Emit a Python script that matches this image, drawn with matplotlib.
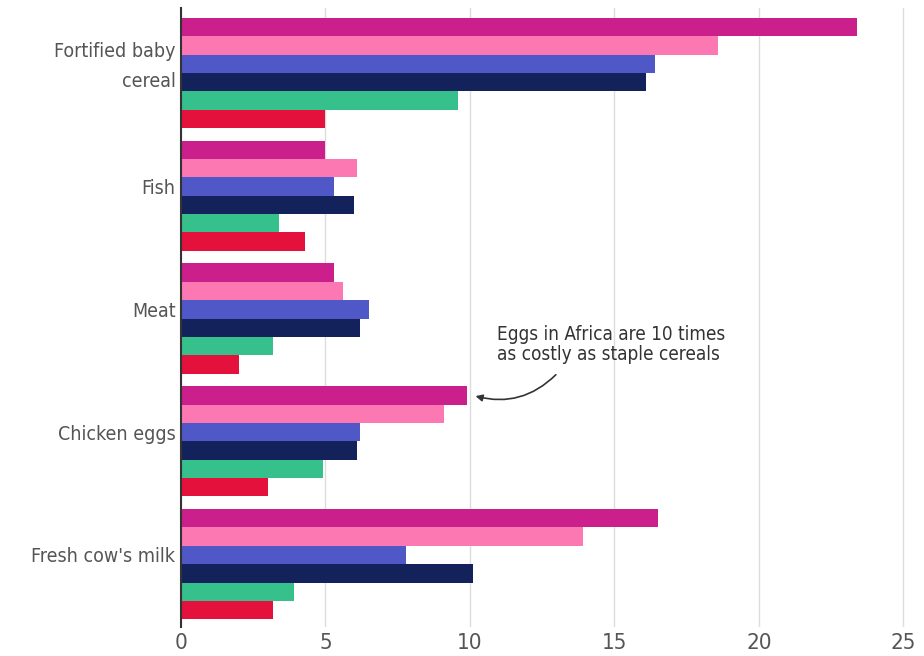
import numpy as np
import matplotlib
matplotlib.use("Agg")
import matplotlib.pyplot as plt

plt.rcParams['font.family'] = ['DejaVu Sans']
plt.rcParams['font.stretch'] = 'condensed'

# categories (top to bottom) and six series per category
categories = ["Fortified baby\ncereal", "Fish", "Meat", "Chicken eggs", "Fresh cow's milk"]
series_magenta = [23.4, 5.0, 5.3, 9.9, 16.5]
series_pink = [18.6, 6.1, 5.6, 9.1, 13.9]
series_blue = [16.4, 5.3, 6.5, 6.2, 7.8]
series_navy = [16.1, 6.0, 6.2, 6.1, 10.1]
series_green = [9.6, 3.4, 3.2, 4.9, 3.9]
series_red = [5.0, 4.3, 2.0, 3.0, 3.2]

colors = ["#cb1f8b", "#fb78b3", "#4f58c6", "#13225a", "#36c08c", "#e3113c"]
all_series = [series_magenta, series_pink, series_blue, series_navy, series_green, series_red]

fig = plt.figure(figsize=(9.24, 6.56), dpi=100)
ax = fig.add_axes([181 / 924, 1 - 627 / 656, (915 - 181) / 924, (627 - 8) / 656])

period = 6.68
for j, (vals, c) in enumerate(zip(all_series, colors)):
    ys = np.arange(len(categories)) * period + j
    ax.barh(ys, vals, height=1.0, color=c, zorder=3)

ax.set_ylim(4 * period + 5 + 0.5 + 0.42, -1.03)
ax.set_xlim(0, 25.4)
ax.set_xticks([0, 5, 10, 15, 20, 25])
ax.set_xticklabels(["0", "5", "10", "15", "20", "25"])
tick_pos = np.arange(len(categories)) * period + 2.0
tick_pos[0] -= 0.25  # two-line label sits a little higher
ax.set_yticks(tick_pos)
ax.set_yticklabels(categories, ha="right")
for lbl in ax.get_yticklabels():
    lbl.set_linespacing(1.7)

ax.grid(axis="x", color="#dcdcdc", linewidth=1, zorder=0)
ax.tick_params(axis="both", length=0, labelcolor="#555555")
ax.tick_params(axis="y", labelsize=14, pad=4)
ax.tick_params(axis="x", labelsize=16, pad=4)
for s in ["top", "right", "bottom"]:
    ax.spines[s].set_visible(False)
ax.spines["left"].set_color("#333333")
ax.spines["left"].set_linewidth(1.5)
ax.spines["left"].set_zorder(4)

ax.text(10.93, 17.29, "Eggs in Africa are 10 times\nas costly as staple cereals",
        fontsize=13.6, color="#333333", ha="left", va="center", linespacing=1.05)
ax.annotate("", xy=(10.1, 3 * period), xytext=(13.04, 18.81),
            arrowprops=dict(arrowstyle="-|>", color="#333333", lw=1.2,
                            connectionstyle="arc3,rad=-0.3", mutation_scale=10))

fig.savefig("out.png", dpi=100)
